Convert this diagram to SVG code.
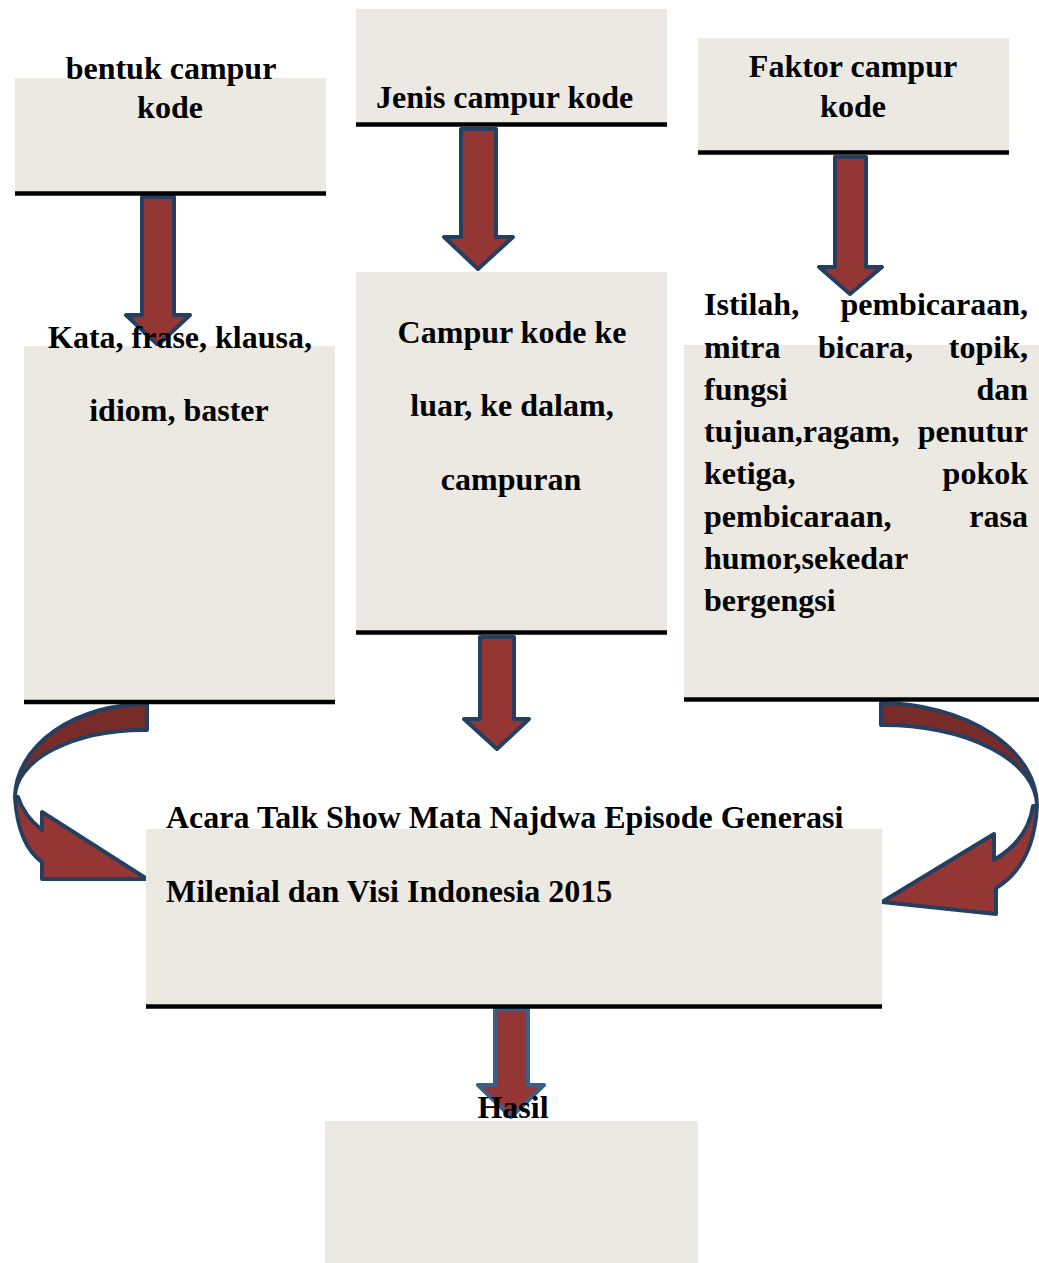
<svg xmlns="http://www.w3.org/2000/svg" width="1039" height="1263" viewBox="0 0 1039 1263">
<style>
.box{fill:#ECE9E2}
.bar{stroke:#000;stroke-width:4.5}
.t{font-family:"Liberation Serif","Times New Roman",serif;font-weight:bold;font-size:32px;fill:#000}
.c{text-anchor:middle}
.e{text-anchor:end}
.arr{fill:#943634;stroke:#243F60;stroke-width:4;stroke-linejoin:round}
.dark{fill:#772C2A}
</style>
<rect width="1039" height="1263" fill="#fff"/>
<g id="connectors">
<polygon class="arr" points="142,197 174,197 174,315 190,315 158,345 126,315 142,315"/>
<polygon class="arr" points="461,129 496,129 496,237 513,237 478,269 444,237 461,237"/>
<polygon class="arr" points="835,157 866,157 866,267 882,267 850,294 819,267 835,267"/>
<polygon class="arr" points="480,637 514,637 514,719 529,719 497,749 464,719 480,719"/>
<polygon class="arr" style="stroke:#3A5F8B" points="495,1009 528,1009 528,1085 544,1085 511,1117 478,1085 495,1085"/>
<path class="arr dark" d="M147,704 A132,94 0 0 0 15,797 A129,67 0 0 1 147,730 Z"/>
<path class="arr" d="M15,797 Q18,845 42,862 L42,879 L147,879 L42,812 L42,830 Q24,816 18,797 Z"/>
<path class="arr dark" d="M881,703 A158,103 0 0 1 1037,806 A153,81 0 0 0 881,725 Z"/>
<path class="arr" d="M1037,806 Q1034,865 996,888 L996,914 L882,902 L994,834 L994,860 Q1028,840 1033,806 Z"/>
</g>
<g id="node-bentuk">
<rect class="box" x="15" y="78" width="311" height="114"/>
<line class="bar" x1="15" y1="193.5" x2="326" y2="193.5"/>
<text class="t c" x="171" y="79">bentuk campur</text>
<text class="t c" x="170" y="118">kode</text>
</g>
<g id="node-jenis">
<rect class="box" x="356" y="9" width="311" height="114"/>
<line class="bar" x1="356" y1="124.5" x2="667" y2="124.5"/>
<text class="t" x="376" y="108">Jenis campur kode</text>
</g>
<g id="node-faktor">
<rect class="box" x="698" y="38" width="311" height="113"/>
<line class="bar" x1="698" y1="152.5" x2="1009" y2="152.5"/>
<text class="t c" x="853" y="77">Faktor campur</text>
<text class="t c" x="853" y="117">kode</text>
</g>
<g id="node-kata">
<rect class="box" x="24" y="346" width="311" height="354"/>
<line class="bar" x1="24" y1="702" x2="335" y2="702"/>
<text class="t c" x="180" y="348">Kata, frase, klausa,</text>
<text class="t c" x="179" y="421">idiom, baster</text>
</g>
<g id="node-campur">
<rect class="box" x="356" y="272" width="311" height="358"/>
<line class="bar" x1="356" y1="632.5" x2="667" y2="632.5"/>
<text class="t c" x="512" y="343">Campur kode ke</text>
<text class="t c" x="512" y="416">luar, ke dalam,</text>
<text class="t c" x="511" y="490">campuran</text>
</g>
<g id="node-istilah">
<rect class="box" x="684" y="345" width="355" height="352"/>
<line class="bar" x1="684" y1="699.5" x2="1039" y2="699.5"/>
<text class="t" x="704" y="315">Istilah,</text>
<text class="t e" x="1028" y="315">pembicaraan,</text>
<text class="t" x="704" y="358">mitra</text>
<text class="t" x="818" y="358">bicara,</text>
<text class="t e" x="1028" y="358">topik,</text>
<text class="t" x="704" y="400">fungsi</text>
<text class="t e" x="1028" y="400">dan</text>
<text class="t" x="704" y="442">tujuan,ragam,</text>
<text class="t e" x="1028" y="442">penutur</text>
<text class="t" x="704" y="484">ketiga,</text>
<text class="t e" x="1028" y="484">pokok</text>
<text class="t" x="704" y="527">pembicaraan,</text>
<text class="t e" x="1028" y="527">rasa</text>
<text class="t" x="704" y="569">humor,sekedar</text>
<text class="t" x="704" y="611">bergengsi</text>
</g>
<g id="node-acara">
<rect class="box" x="146" y="829" width="736" height="175"/>
<line class="bar" x1="146" y1="1006.5" x2="882" y2="1006.5"/>
<text class="t" x="166" y="828">Acara Talk Show Mata Najdwa Episode Generasi</text>
<text class="t" x="166" y="902">Milenial dan Visi Indonesia 2015</text>
</g>
<g id="node-hasil">
<rect class="box" x="325" y="1121" width="373" height="142"/>
<text class="t c" x="513" y="1118">Hasil</text>
</g>
</svg>
